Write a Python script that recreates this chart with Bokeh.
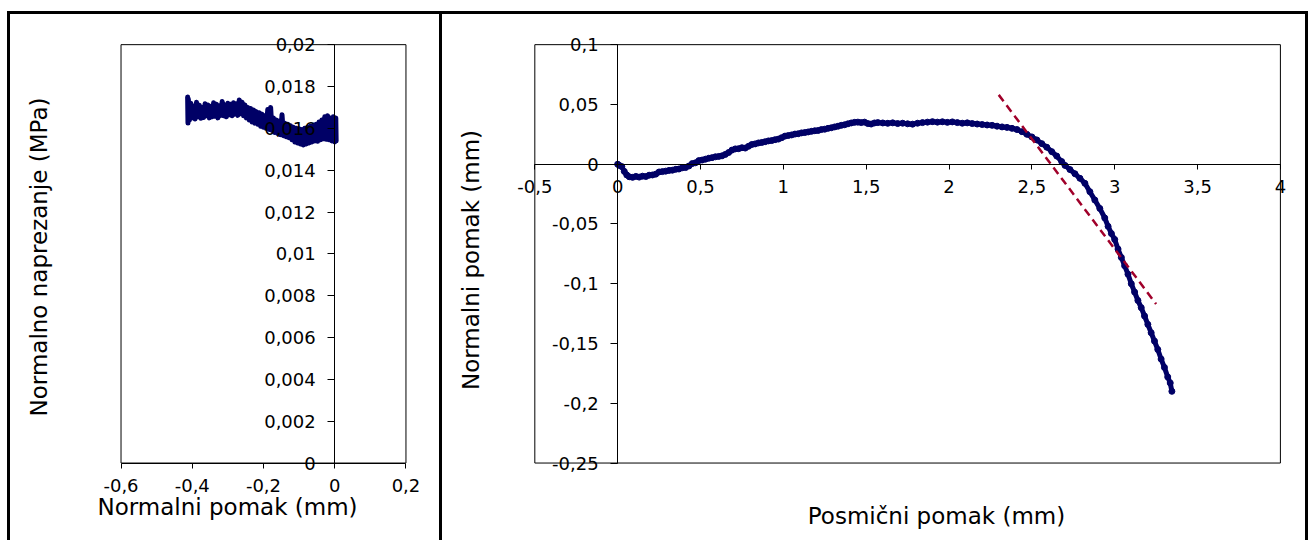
from bokeh.plotting import figure
from bokeh.layouts import row
from bokeh.models import Range1d, FixedTicker, LinearAxis
from bokeh.embed import file_html
from bokeh.resources import INLINE

# ---------------- Left chart: normal stress vs normal displacement ----------------
left_normal_disp = [
    -0.413, -0.412, -0.411, -0.408, -0.404, -0.400, -0.396, -0.392, -0.388, -0.384,
    -0.380, -0.376, -0.372, -0.368, -0.364, -0.360, -0.356, -0.352, -0.348, -0.344,
    -0.340, -0.336, -0.332, -0.328, -0.324, -0.320, -0.316, -0.312, -0.308, -0.304,
    -0.300, -0.296, -0.292, -0.288, -0.284, -0.280, -0.276, -0.272, -0.268, -0.264,
    -0.260, -0.256, -0.252, -0.248, -0.244, -0.240, -0.236, -0.232, -0.228, -0.224,
    -0.220, -0.216, -0.212, -0.208, -0.204, -0.200, -0.196, -0.192, -0.188, -0.184,
    -0.180, -0.176, -0.172, -0.168, -0.164, -0.160, -0.156, -0.152, -0.148, -0.144,
    -0.140, -0.136, -0.132, -0.128, -0.124, -0.120, -0.116, -0.112, -0.108, -0.104,
    -0.100, -0.096, -0.092, -0.088, -0.084, -0.080, -0.076, -0.072, -0.068, -0.064,
    -0.060, -0.056, -0.052, -0.048, -0.044, -0.040, -0.036, -0.032, -0.028, -0.024,
    -0.020, -0.016, -0.012, -0.008, -0.004, 0.000, 0.003, 0.004,
]
left_normal_stress = [
    0.01750, 0.01625, 0.01740, 0.01640, 0.01720, 0.01650, 0.01705, 0.01645, 0.01725, 0.01655,
    0.01710, 0.01648, 0.01700, 0.01652, 0.01718, 0.01660, 0.01712, 0.01650, 0.01705, 0.01655,
    0.01722, 0.01658, 0.01715, 0.01650, 0.01708, 0.01662, 0.01728, 0.01660, 0.01712, 0.01655,
    0.01720, 0.01665, 0.01715, 0.01660, 0.01722, 0.01668, 0.01718, 0.01662, 0.01735, 0.01670,
    0.01725, 0.01660, 0.01712, 0.01650, 0.01700, 0.01640, 0.01695, 0.01630, 0.01688, 0.01625,
    0.01680, 0.01620, 0.01675, 0.01610, 0.01668, 0.01605, 0.01660, 0.01600, 0.01690, 0.01595,
    0.01700, 0.01590, 0.01650, 0.01580, 0.01640, 0.01575, 0.01635, 0.01570, 0.01665, 0.01565,
    0.01625, 0.01560, 0.01620, 0.01555, 0.01612, 0.01545, 0.01605, 0.01535, 0.01600, 0.01530,
    0.01598, 0.01525, 0.01595, 0.01520, 0.01600, 0.01525, 0.01605, 0.01530, 0.01610, 0.01535,
    0.01615, 0.01540, 0.01620, 0.01538, 0.01630, 0.01545, 0.01640, 0.01550, 0.01655, 0.01548,
    0.01660, 0.01545, 0.01650, 0.01540, 0.01655, 0.01535, 0.01650, 0.01540,
]

left_x_limits = (-0.6, 0.2)
left_y_limits = (0.0, 0.02)
left_x_ticks = [-0.6, -0.4, -0.2, 0.0, 0.2]
left_x_labels = ["-0,6", "-0,4", "-0,2", "0", "0,2"]
left_y_ticks = [0.0, 0.002, 0.004, 0.006, 0.008, 0.01, 0.012, 0.014, 0.016, 0.018, 0.02]
left_y_labels = ["0", "0,002", "0,004", "0,006", "0,008", "0,01", "0,012", "0,014",
                 "0,016", "0,018", "0,02"]
left_x_title = "Normalni pomak (mm)"
left_y_title = "Normalno naprezanje (MPa)"

# ---------------- Right chart: normal displacement vs shear displacement ----------------
shear_disp = [
    0.000, 0.010, 0.025, 0.040, 0.055, 0.070, 0.090, 0.110, 0.130, 0.150,
    0.170, 0.190, 0.210, 0.230, 0.250, 0.270, 0.290, 0.310, 0.330, 0.350,
    0.370, 0.390, 0.410, 0.430, 0.450, 0.470, 0.490, 0.510, 0.530, 0.550,
    0.570, 0.590, 0.610, 0.630, 0.650, 0.670, 0.690, 0.710, 0.730, 0.750,
    0.770, 0.790, 0.810, 0.830, 0.850, 0.870, 0.890, 0.910, 0.930, 0.950,
    0.970, 0.990, 1.010, 1.030, 1.050, 1.070, 1.090, 1.110, 1.130, 1.150,
    1.170, 1.190, 1.210, 1.230, 1.250, 1.270, 1.290, 1.310, 1.330, 1.350,
    1.370, 1.390, 1.410, 1.430, 1.450, 1.470, 1.490, 1.510, 1.530, 1.550,
    1.570, 1.600, 1.630, 1.660, 1.690, 1.720, 1.750, 1.780, 1.810, 1.840,
    1.870, 1.900, 1.930, 1.960, 1.990, 2.020, 2.050, 2.080, 2.110, 2.140,
    2.170, 2.200, 2.230, 2.260, 2.290, 2.320, 2.350, 2.380, 2.410, 2.440,
    2.470, 2.500, 2.530, 2.560, 2.590, 2.620, 2.650, 2.680, 2.700, 2.730,
    2.760, 2.790, 2.820, 2.850, 2.880, 2.910, 2.940, 2.960, 2.980, 3.000,
    3.020, 3.040, 3.060, 3.080, 3.100, 3.120, 3.140, 3.160, 3.180, 3.200,
    3.220, 3.240, 3.260, 3.280, 3.300, 3.320, 3.335, 3.345,
]
normal_disp = [
    0.0000, -0.0010, -0.0020, -0.0060, -0.0090, -0.0105, -0.0110, -0.0102, -0.0108, -0.0100,
    -0.0103, -0.0092, -0.0090, -0.0083, -0.0065, -0.0062, -0.0058, -0.0052, -0.0050, -0.0043,
    -0.0040, -0.0030, -0.0028, -0.0015, 0.0005, 0.0012, 0.0030, 0.0035, 0.0042, 0.0050,
    0.0055, 0.0062, 0.0065, 0.0070, 0.0082, 0.0098, 0.0118, 0.0128, 0.0130, 0.0138,
    0.0135, 0.0150, 0.0165, 0.0170, 0.0178, 0.0182, 0.0188, 0.0195, 0.0198, 0.0205,
    0.0210, 0.0222, 0.0235, 0.0240, 0.0245, 0.0252, 0.0255, 0.0262, 0.0265, 0.0270,
    0.0275, 0.0280, 0.0282, 0.0290, 0.0293, 0.0300, 0.0305, 0.0312, 0.0318, 0.0325,
    0.0330, 0.0338, 0.0345, 0.0350, 0.0352, 0.0348, 0.0352, 0.0340, 0.0336, 0.0345,
    0.0348, 0.0345, 0.0342, 0.0346, 0.0340, 0.0343, 0.0338, 0.0335, 0.0343, 0.0348,
    0.0352, 0.0356, 0.0352, 0.0355, 0.0350, 0.0354, 0.0348, 0.0343, 0.0346, 0.0340,
    0.0336, 0.0332, 0.0328, 0.0325, 0.0318, 0.0312, 0.0308, 0.0300, 0.0290, 0.0272,
    0.0250, 0.0228, 0.0203, 0.0172, 0.0142, 0.0105, 0.0068, 0.0022, -0.0010, -0.0045,
    -0.0080, -0.0118, -0.0160, -0.0230, -0.0300, -0.0370, -0.0450, -0.0520, -0.0580, -0.0630,
    -0.0710, -0.0780, -0.0850, -0.0920, -0.1000, -0.1070, -0.1140, -0.1200, -0.1270, -0.1340,
    -0.1410, -0.1480, -0.1550, -0.1630, -0.1700, -0.1780, -0.1830, -0.1900,
]
trend_x = [2.30, 3.25]
trend_y = [0.058, -0.117]

right_x_limits = (-0.5, 4.0)
right_y_limits = (-0.25, 0.1)
right_x_ticks = [-0.5, 0.0, 0.5, 1.0, 1.5, 2.0, 2.5, 3.0, 3.5, 4.0]
right_x_labels = ["-0,5", "0", "0,5", "1", "1,5", "2", "2,5", "3", "3,5", "4"]
right_y_ticks = [-0.25, -0.2, -0.15, -0.1, -0.05, 0.0, 0.05, 0.1]
right_y_labels = ["-0,25", "-0,2", "-0,15", "-0,1", "-0,05", "0", "0,05", "0,1"]
right_x_title = "Posmični pomak (mm)"
right_y_title = "Normalni pomak (mm)"

FONT = "DejaVu Sans"
NAVY = "#000066"
DARKRED = "#A0002A"

# ---------------- page geometry (pixels) ----------------
# canvas: (left, top, width, height); plot area: (left, top, right, bottom)
P1_CANVAS = (10, 14, 429, 526)
P1_AREA = (119, 44, 400, 460)
P2_CANVAS = (442, 14, 863, 526)
P2_AREA = (534, 44, 1277, 460)


class Geo:
    def __init__(self, canvas, area, xlim, ylim):
        self.cl, self.ct, self.cw, self.ch = canvas
        self.al, self.at, self.ar, self.ab = area
        self.xlim, self.ylim = xlim, ylim
        self.sx = (self.ar - self.al) / (xlim[1] - xlim[0])
        self.sy = (self.ab - self.at) / (ylim[1] - ylim[0])

    def x(self, px):
        return self.xlim[0] + (px - self.al) / self.sx

    def y(self, py):
        return self.ylim[0] + (self.ab - py) / self.sy

    def ranges(self):
        xr = Range1d(self.x(self.cl), self.x(self.cl + self.cw))
        yr = Range1d(self.y(self.ct + self.ch), self.y(self.ct))
        return xr, yr


def make_fig(geo):
    xr, yr = geo.ranges()
    p = figure(width=geo.cw, height=geo.ch, x_range=xr, y_range=yr,
               output_backend="svg", toolbar_location=None, title=None,
               min_border=0, min_border_left=0, min_border_right=0,
               min_border_top=0, min_border_bottom=0)
    p.grid.visible = False
    p.outline_line_color = None
    p.background_fill_color = "white"
    p.border_fill_color = "white"
    # plot-area box
    p.quad(left=[geo.xlim[0]], right=[geo.xlim[1]], bottom=[geo.ylim[0]], top=[geo.ylim[1]],
           fill_color=None, line_color="black", line_width=1)
    for ax in p.axis:
        ax.fixed_location = 0
        ax.axis_line_color = "black"
        ax.axis_line_width = 1
        ax.major_tick_line_color = "black"
        ax.major_tick_in = 0
        ax.minor_tick_line_color = None
        ax.major_label_text_font = FONT
        ax.major_label_text_font_size = "18px"
        ax.major_label_text_color = "black"
    p.xaxis.bounds = geo.xlim
    p.yaxis.bounds = geo.ylim
    p.xaxis.major_tick_out = 5
    p.xaxis.major_label_standoff = 11
    p.yaxis.major_tick_out = 7
    p.yaxis.major_label_standoff = 12
    return p


def title_axis(p, side, text, location, bounds):
    ax = LinearAxis(ticker=FixedTicker(ticks=[]), fixed_location=location, bounds=bounds,
                    axis_line_color=None, major_tick_line_color=None,
                    minor_tick_line_color=None, major_tick_out=0, major_tick_in=0,
                    minor_tick_out=0, minor_tick_in=0, major_label_standoff=0,
                    axis_label=text, axis_label_standoff=0,
                    axis_label_text_font=FONT, axis_label_text_font_size="23px",
                    axis_label_text_font_style="normal", axis_label_text_color="black")
    p.add_layout(ax, side)


# ---- left figure ----
g1 = Geo(P1_CANVAS, P1_AREA, left_x_limits, left_y_limits)
p1 = make_fig(g1)
p1.xaxis.ticker = FixedTicker(ticks=left_x_ticks)
p1.xaxis.major_label_overrides = dict(zip(left_x_ticks, left_x_labels))
p1.yaxis.ticker = FixedTicker(ticks=left_y_ticks)
p1.yaxis.major_label_overrides = dict(zip(left_y_ticks, left_y_labels))
p1.line(left_normal_disp, left_normal_stress, line_width=5, line_color=NAVY,
        line_join="round", line_cap="round")
title_axis(p1, "left", left_y_title, g1.x(50), (g1.y(460), g1.y(50)))
title_axis(p1, "below", left_x_title, g1.y(490), (g1.x(119), g1.x(329)))
p1.margin = (11, 0, 0, 7)
p1.styles = {"border-left": "3px solid black", "border-top": "3px solid black",
             "border-right": "3px solid black", "box-sizing": "content-box"}

# ---- right figure ----
g2 = Geo(P2_CANVAS, P2_AREA, right_x_limits, right_y_limits)
p2 = make_fig(g2)
p2.xaxis.ticker = FixedTicker(ticks=right_x_ticks)
p2.xaxis.major_label_overrides = dict(zip(right_x_ticks, right_x_labels))
p2.yaxis.ticker = FixedTicker(ticks=right_y_ticks)
p2.yaxis.major_label_overrides = dict(zip(right_y_ticks, right_y_labels))
p2.line(shear_disp, normal_disp, line_width=5, line_color=NAVY,
        line_join="round", line_cap="round")
p2.scatter(shear_disp, normal_disp, size=6, color=NAVY)
p2.line(trend_x, trend_y, line_width=2.5, line_color=DARKRED, line_dash="8 5")
title_axis(p2, "left", right_y_title, g2.x(483), (g2.y(460), g2.y(56)))
title_axis(p2, "below", right_x_title, g2.y(499), (g2.x(591), g2.x(1277)))
p2.margin = (11, 0, 0, 0)
p2.styles = {"border-top": "3px solid black", "border-right": "3px solid black",
             "box-sizing": "content-box"}

layout = row(p1, p2)
open("out.html", "w").write(file_html(layout, INLINE))
